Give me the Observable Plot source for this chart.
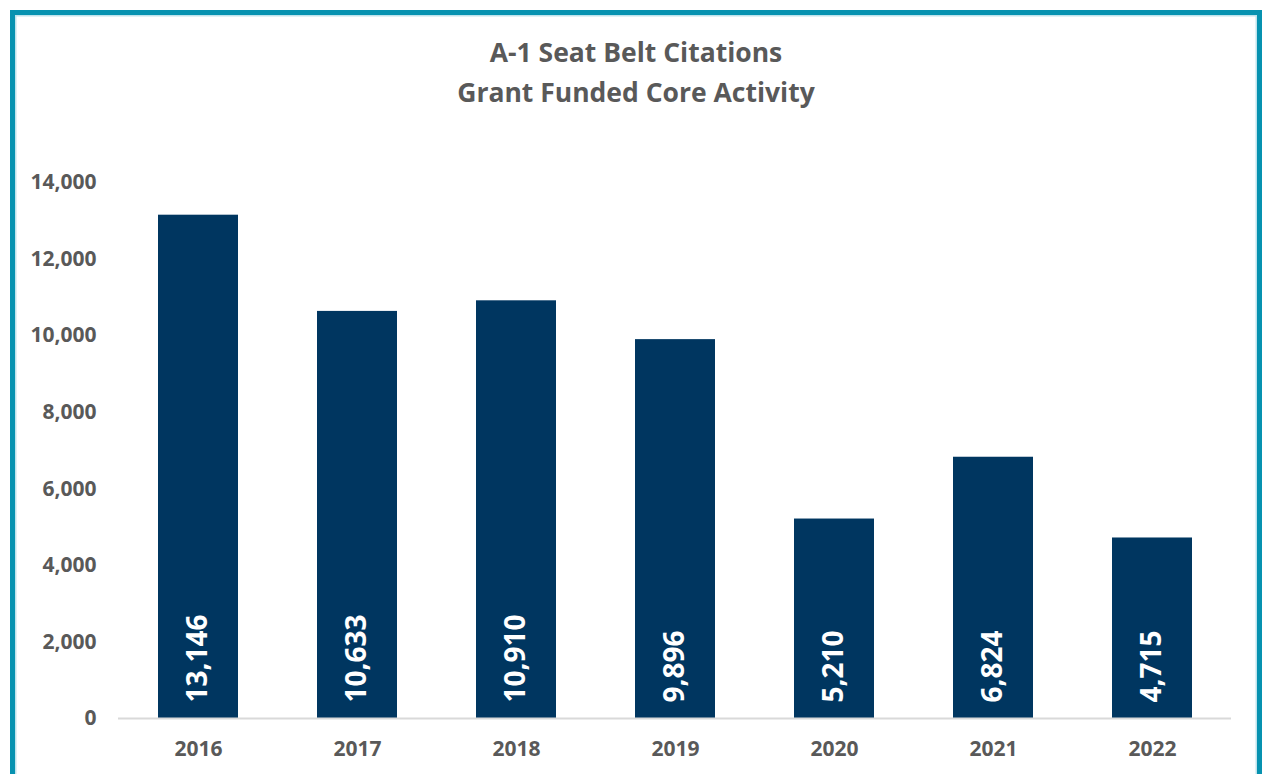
<!DOCTYPE html>
<html>
<head>
<meta charset="utf-8">
<script src="https://cdn.jsdelivr.net/npm/d3@7"></script>
<script src="https://cdn.jsdelivr.net/npm/@observablehq/plot@0.6"></script>
<style>
  html, body { margin: 0; padding: 0; background: #fff; overflow: hidden; }
  body { width: 1262px; height: 774px; position: relative; font-family: "Open Sans", sans-serif; }
  #frame { position: absolute; left: 10px; top: 10px; width: 1242px; height: 800px;
           border: 5px solid #0792B0; box-shadow: inset 0 0 0 1.5px #BFE3EC; box-sizing: content-box; }
  #title { position: absolute; left: 10px; width: 1252px; top: 32px; text-align: center;
           color: #595959; font-weight: bold; font-size: 26.5px; line-height: 40px; }
  #chart { position: absolute; left: 0; top: 140px; }
</style>
</head>
<body>
<div id="frame"></div>
<div id="title">A-1 Seat Belt Citations<br>Grant Funded Core Activity</div>
<div id="chart"></div>
<script>
const years = ["2016", "2017", "2018", "2019", "2020", "2021", "2022"];
const citations = [13146, 10633, 10910, 9896, 5210, 6824, 4715];
const yTicks = [0, 2000, 4000, 6000, 8000, 10000, 12000, 14000];

const data = years.map((y, i) => ({year: y, value: citations[i]}));
const fmt = d3.format(",");

const plot = Plot.plot({
  width: 1262,
  height: 634,
  marginLeft: 118,
  marginRight: 31,
  marginTop: 42,
  marginBottom: 56,
  style: {fontFamily: "Open Sans", color: "#595959", background: "transparent"},
  x: {domain: years, paddingInner: 0.5, paddingOuter: 0.25, align: 0.5, label: null},
  y: {domain: [0, 14000], label: null},
  marks: [
    Plot.barY(data, {x: "year", y: "value", fill: "#003660"}),
    Plot.ruleY([0], {stroke: "#D9D9D9", strokeWidth: 2}),
    Plot.text(data, {x: "year", y: 0, text: d => fmt(d.value), rotate: -90, textAnchor: "start",
                     dy: -16, fill: "white", fontSize: 28, fontWeight: "bold"}),
    Plot.axisY({ticks: yTicks, tickFormat: fmt, tickSize: 0, tickPadding: 22, fontSize: 21, fontWeight: "bold"}),
    Plot.axisX({tickSize: 0, tickPadding: 23, fontSize: 21, fontWeight: "bold"})
  ]
});
document.getElementById("chart").appendChild(plot);
</script>
</body>
</html>
